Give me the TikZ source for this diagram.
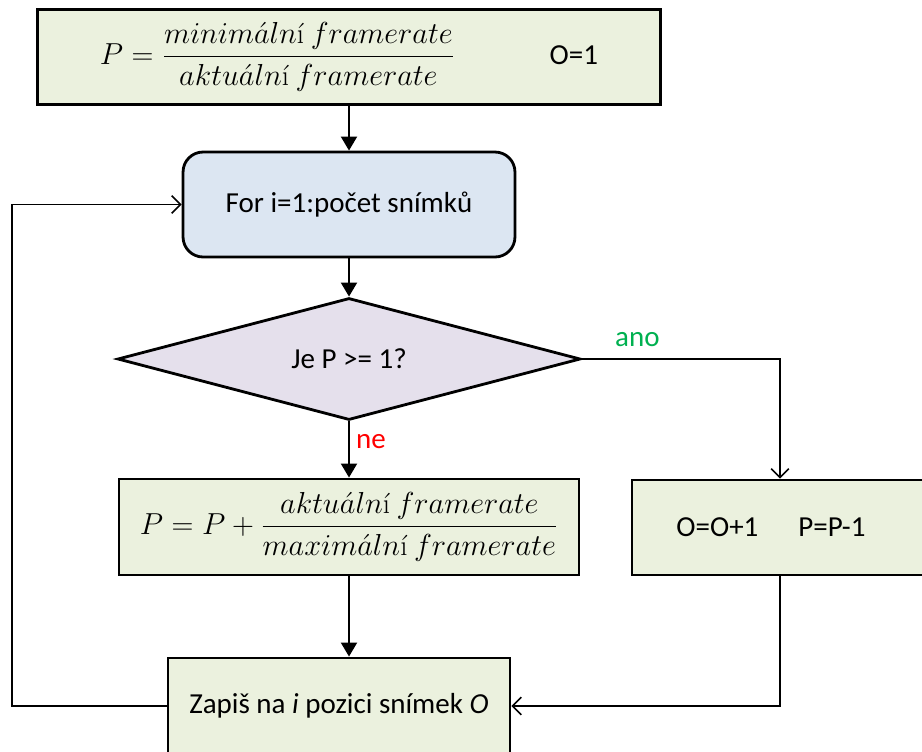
\documentclass[tikz,border=0pt]{standalone}
\usepackage{fontspec}
\setsansfont{Carlito}
\usepackage{amsmath}
\usetikzlibrary{shapes.geometric}
\usetikzlibrary{arrows.meta}
\usetikzlibrary{calc}

\definecolor{boxgreen}{HTML}{EBF1DE}
\definecolor{boxblue}{HTML}{DCE6F2}
\definecolor{boxviolet}{HTML}{E5E0EC}
\definecolor{anogreen}{HTML}{00B050}

\begin{document}
\begin{tikzpicture}[x=0.02cm, y=-0.02cm,
        popis/.style={font=\sffamily\fontsize{16.5}{19}\selectfont},
        krok/.style={draw, line width=1.6pt, fill=boxgreen, inner sep=0pt, popis},
        smycka/.style={krok, fill=boxblue, rounded corners=0.4cm},
        podminka/.style={krok, diamond, fill=boxviolet},
        tok/.style={line width=1.5pt, -{Triangle[length=8pt, width=9pt]}},
        zpet/.style={line width=0.9pt, -{Straight Barb[length=5pt, width=10pt]}}]
        \useasboundingbox (0,0) rectangle (922,751);

        % Inicializace
        \node[krok, minimum width=12.46cm, minimum height=1.9cm] (start) at (349,57)
            {$P=\dfrac{minim\acute{a}ln\textrm{í}\ framerate}{aktu\acute{a}ln\textrm{í}\ framerate}$\hspace{1.9cm}O=1};

        % Cyklus pres snimky
        \node[smycka, minimum width=6.64cm, minimum height=2.1cm] (cyklus) at (349,204.5) {For i=1:počet snímků};

        % Podminka
        \node[podminka, minimum width=9.26cm, minimum height=2.44cm, shape aspect=3.8] (podm) at (349,359) {Je P >= 1?};

        % Vetev ne
        \node[krok, minimum width=9.2cm, minimum height=1.92cm] (pricti) at (349,527)
            {$P=P+\dfrac{aktu\acute{a}ln\textrm{í}\ framerate}{maxim\acute{a}ln\textrm{í}\ framerate}$};

        % Vetev ano
        \node[krok, minimum width=6.16cm, minimum height=1.9cm] (odecti) at (786,527.5)
            {O=O+1\hspace{0.8cm}P=P-1\hspace*{0.6cm}};

        % Zapis snimku
        \node[krok, minimum width=6.84cm, minimum height=1.92cm] (zapis) at (339,706)
            {Zapiš na \textit{i} pozici snímek \textit{O}};

        % Spojnice
        \coordinate (vpravo) at (780,359);
        \coordinate (vlevo) at (12,706);
        \draw[tok] (start) -- (cyklus);
        \draw[tok] (cyklus) -- (podm);
        \draw[tok] (podm) -- node[popis, right, red, pos=0.35] {ne} (pricti);
        \draw[tok] (pricti.south) -- (pricti.south |- zapis.north);
        \draw[zpet] (podm.east) -- node[popis, above=3pt, anogreen, pos=0.28] {ano} (vpravo) -- (vpravo |- odecti.north);
        \draw[zpet] (vpravo |- odecti.south) |- (zapis.east);
        \draw[zpet] (zapis.west) -- (vlevo) |- (cyklus.west);
\end{tikzpicture}
\end{document}
